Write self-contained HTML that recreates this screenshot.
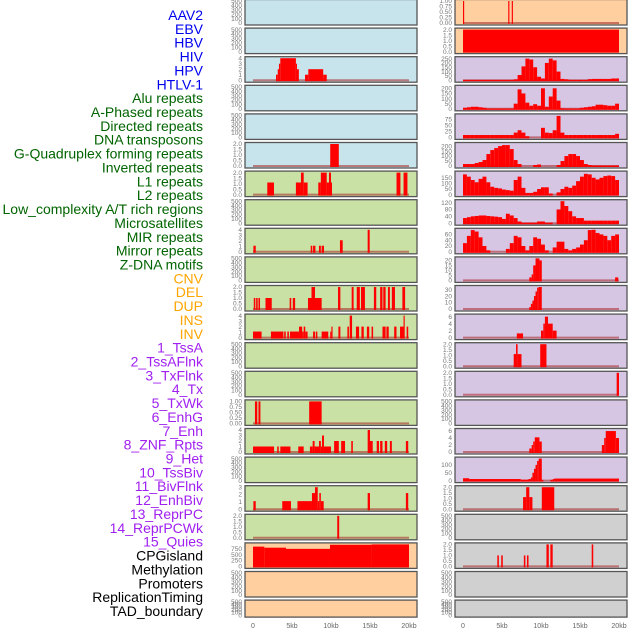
<!DOCTYPE html>
<html><head><meta charset="utf-8"><style>
html,body{margin:0;padding:0;background:#fff;}
svg{display:block;font-family:"Liberation Sans",sans-serif;}
</style></head><body>
<svg id="chart" width="630" height="630" viewBox="0 0 630 630">
<g id="labels"></g>
<g id="panels"></g>
<g id="xaxis"></g>
</svg>
<script>
// ---- label data ----
const labelNames = ["AAV2","EBV","HBV","HIV","HPV","HTLV-1","Alu repeats","A-Phased repeats","Directed repeats","DNA transposons","G-Quadruplex forming repeats","Inverted repeats","L1 repeats","L2 repeats","Low_complexity A/T rich regions","Microsatellites","MIR repeats","Mirror repeats","Z-DNA motifs","CNV","DEL","DUP","INS","INV","1_TssA","2_TssAFlnk","3_TxFlnk","4_Tx","5_TxWk","6_EnhG","7_Enh","8_ZNF_Rpts","9_Het","10_TssBiv","11_BivFlnk","12_EnhBiv","13_ReprPC","14_ReprPCWk","15_Quies","CPGisland","Methylation","Promoters","ReplicationTiming","TAD_boundary"];
const labelGroups = [0,0,0,0,0,0,1,1,1,1,1,1,1,1,1,1,1,1,1,2,2,2,2,2,3,3,3,3,3,3,3,3,3,3,3,3,3,3,3,4,4,4,4,4];
const xTickKb = [0,5,10,15,20];
const xTickLabels = ["0","5kb","10kb","15kb","20kb"];

// ---- tick label sets ----
const T500 = ['0','100','200','300','400','500'];
const T2 = ['0.0','0.5','1.0','1.5','2.0'];
const T1 = ['0.00','0.25','0.50','0.75','1.00'];
const T4 = ['0','1','2','3','4'];
const T3 = ['0','1','2','3'];

// ---- left column segment data [startKb, endKb, value] ----
const l02 = [[2.95,3.17,1],[3.17,3.33,2],[3.33,3.5,3],[3.5,5.5,4],[5.5,5.64,3],[5.64,5.88,2],[6.67,7.09,1],[7.09,9.0,2],[9.0,9.45,1]];
const l05 = [[9.9,11.0,2]];
const l06 = [[1.83,2.69,1.1],[5.5,6.15,1.1],[6.15,6.5,2],[6.5,7.0,1.1],[8.37,8.7,1.1],[8.7,9.45,2],[9.45,9.74,1.1],[9.74,10.0,2],[10.0,10.1,1.1],[18.4,18.9,2],[19.3,19.8,2]];
const l08 = [[0.05,0.35,1.1],[7.4,7.6,1.1],[7.7,8.0,1.1],[8.46,8.7,1.1],[8.8,9.1,1.1],[11.15,11.5,2.1],[14.7,14.96,4]];
const l10 = [[0.1,0.3,1],[0.4,0.6,1],[0.7,0.9,1],[1.6,2.4,1],[4.7,4.9,1],[5.1,5.4,1],[7.05,7.5,1],[7.5,7.95,2],[7.95,8.8,1],[10.9,11.2,2],[12.65,12.9,2],[13.3,13.7,2],[13.85,14.35,2],[15.5,15.8,2],[16.3,16.6,2],[16.7,17.0,2],[17.3,17.55,2],[17.8,18.2,2],[19.15,19.5,2]];
const l11 = [[0.0,1.1,1.1],[2.3,3.9,1.1],[4.0,4.2,1.1],[4.4,4.6,1.1],[4.74,5.9,1.1],[5.9,6.3,2],[6.3,6.5,1.1],[6.5,6.7,2],[6.7,7.0,1.1],[7.7,7.95,1.1],[8.05,8.25,1.1],[8.8,9.65,1.1],[9.9,10.05,1.1],[10.05,10.2,2],[10.95,11.2,2],[12.1,12.3,2],[12.4,12.7,4],[13.2,13.6,2],[13.9,14.2,2],[14.6,14.9,2],[15.2,15.4,2],[16.6,17.0,2],[17.1,17.4,2],[18.1,18.4,2],[18.85,19.3,2],[19.3,19.45,4],[19.7,19.9,2]];
const l14 = [[0.25,0.55,1],[0.7,0.95,1],[7.2,8.8,1]];
const l15 = [[0.0,2.7,1],[3.1,3.3,1],[3.5,4.8,1],[5.8,6.5,1],[7.3,7.65,1],[7.65,7.9,2],[7.9,8.46,1],[8.46,8.7,2],[8.7,8.85,1],[8.85,9.1,3],[9.1,10.0,1],[10.4,11.0,2],[11.3,11.8,2],[12.6,12.8,2],[14.7,15.0,4],[15.0,15.35,2],[15.86,16.15,2],[16.3,16.6,2],[16.9,17.2,2],[17.55,17.8,2],[19.6,19.9,2]];
const l17 = [[0.05,0.35,1.1],[3.75,4.87,1.1],[5.7,7.56,1.1],[7.56,7.95,2.2],[7.95,8.3,3],[8.3,8.5,1.1],[8.5,8.7,2.2],[8.7,9.06,1.1],[14.7,15.0,2.2],[19.6,19.9,2.2]];
const l18 = [[10.8,11.05,2]];
const l19 = [[0,1.45,845],[1.45,4.23,800],[4.23,9.87,750],[9.87,15.2,925],[15.2,20.0,940]];

// ---- right column data ----
const r00 = [[0.0,0.15,1],[5.8,5.95,1],[6.25,6.4,1]];
const r01 = [[0,20,2]];
// profiles: 40 bins of 0.5kb
const r02 = [3,3,3,3,3,3,3,3,3,3,3,3,3,10,60,160,250,240,150,40,20,200,250,230,100,15,10,3,3,3,3,3,12,15,15,15,15,15,20,20];
const r03 = [10,15,20,20,15,10,3,3,3,3,3,3,3,50,190,150,60,30,45,30,200,20,120,200,80,5,3,3,3,3,10,15,20,25,40,40,35,30,30,50];
const r04 = [10,10,10,10,10,10,10,10,10,10,10,10,10,20,30,20,5,0,0,0,40,20,18,30,90,20,10,10,10,10,10,10,10,10,10,10,10,10,10,15];
const r05 = [20,20,20,30,40,60,120,160,180,200,210,210,170,60,20,0,0,0,10,15,0,0,0,0,10,50,100,120,120,100,60,20,10,5,5,5,5,5,5,5];
const r06 = [180,160,130,110,140,160,110,70,60,55,45,40,35,130,160,60,15,15,25,50,65,65,10,0,20,50,70,60,80,120,160,185,180,150,135,150,165,170,165,130];
const r07 = [30,35,40,42,45,45,42,40,38,35,25,55,45,30,10,3,3,3,3,10,10,3,3,0,80,130,100,70,40,30,30,15,15,15,15,15,15,15,15,15];
const r08 = [30,55,75,70,50,20,5,0,0,0,0,10,30,55,50,20,5,20,50,45,25,5,0,15,35,35,10,5,10,15,25,40,75,80,65,60,55,40,55,60];
const r09 = [[8.5,8.8,3],[8.8,9.0,6],[9.0,9.3,15],[9.3,9.8,22],[9.8,10.1,20],[19.5,19.9,3]];
const r10 = [[8.5,8.7,3],[8.7,8.9,8],[8.9,9.1,13],[9.1,9.3,20],[9.3,9.5,27],[9.5,9.7,33],[9.7,10.1,35]];
const r11 = [[6.9,7.7,1.2],[10.0,10.3,2],[10.3,10.5,4],[10.5,10.9,6],[10.9,11.5,4],[11.5,12.0,2]];
const r12 = [[6.5,6.8,1.1],[6.8,7.0,2],[7.0,7.5,1.1],[9.9,10.7,2]];
const r13 = [[19.7,20.0,2]];
const r15 = [[8.5,8.8,1],[8.8,9.0,2],[9.0,9.2,3],[9.2,9.8,4.2],[9.8,10.1,3],[17.8,18.1,2],[18.1,18.3,4],[18.3,19.6,6],[19.6,20.0,4]];
const r16 = [[0,0.8,15],[0.8,7.4,10],[7.4,8.4,6],[8.4,8.7,10],[8.7,8.9,20],[8.9,9.1,50],[9.1,9.3,75],[9.3,9.5,100],[9.5,9.7,125],[9.7,10.1,140],[10.1,10.3,5],[11.2,11.5,5],[11.5,11.7,10],[11.7,20,13]];
const r17 = [[7.7,8.1,1.1],[8.1,8.5,2],[8.5,8.9,1.1],[10.1,11.7,2]];
const r19 = [[4.4,4.6,1],[4.9,5.1,1],[7.8,8.0,1],[8.2,8.4,1],[10.7,11.0,2],[11.2,11.5,2],[16.5,16.7,2]];

const BLUE='#c7e4ec', GREEN='#c9e1a4', ORANGE='#ffcf9f', PURPLE='#d6c6e3', GRAY='#d0d0d0';
const leftPanels = [
 {bg:BLUE,t:T500},{bg:BLUE,t:T500},{bg:BLUE,t:T4,s:l02},{bg:BLUE,t:T500},{bg:BLUE,t:T500},
 {bg:BLUE,t:T2,s:l05},{bg:GREEN,t:T2,s:l06},{bg:GREEN,t:T500},{bg:GREEN,t:T4,s:l08},{bg:GREEN,t:T500},
 {bg:GREEN,t:T2,s:l10},{bg:GREEN,t:T4,s:l11},{bg:GREEN,t:T500},{bg:GREEN,t:T500},{bg:GREEN,t:T1,s:l14},
 {bg:GREEN,t:T4,s:l15},{bg:GREEN,t:T500},{bg:GREEN,t:T3,s:l17},{bg:GREEN,t:T2,s:l18},
 {bg:ORANGE,t:['0','250','500','750'],m:940,s:l19},{bg:ORANGE,t:T500},{bg:ORANGE,t:T500}];
const rightPanels = [
 {bg:ORANGE,t:T1,s:r00},{bg:ORANGE,t:T2,s:r01},
 {bg:PURPLE,t:['0','50','100','150','200','250'],m:255,p:r02},
 {bg:PURPLE,t:['0','50','100','150','200'],m:215,p:r03},
 {bg:PURPLE,t:['0','25','50','75'],m:92,p:r04},
 {bg:PURPLE,t:['0','50','100','150','200'],m:221,p:r05},
 {bg:PURPLE,t:['0','50','100','150'],m:196,p:r06},
 {bg:PURPLE,t:['0','40','80','120'],m:128,p:r07},
 {bg:PURPLE,t:['0','20','40','60'],m:76,p:r08},
 {bg:PURPLE,t:['0','5','10','15','20'],m:22,s:r09},
 {bg:PURPLE,t:['0','10','20','30'],m:34,s:r10},
 {bg:PURPLE,t:['0','2','4','6'],m:6.3,s:r11},
 {bg:PURPLE,t:T2,s:r12},{bg:PURPLE,t:T2,s:r13},{bg:PURPLE,t:T500},
 {bg:PURPLE,t:['0','2','4','6'],m:6.3,s:r15},
 {bg:PURPLE,t:['0','50','100'],m:140,s:r16},
 {bg:GRAY,t:T2,s:r17},{bg:GRAY,t:T500},{bg:GRAY,t:T2,s:r19},{bg:GRAY,t:T500},{bg:GRAY,t:T500}];

const NS='http://www.w3.org/2000/svg';
function mk(tag, attrs, parent){const e=document.createElementNS(NS,tag);for(const k in attrs)e.setAttribute(k,attrs[k]);parent.appendChild(e);return e;}

// labels
const groupColors=['#0000ee','#006400','#ffa500','#a020f0','#000000'];
const lg=document.getElementById('labels');
labelNames.forEach((n,i)=>{
  const t=mk('text',{x:203,y:15+i*13.86+5,'text-anchor':'end','font-size':14,fill:groupColors[labelGroups[i]]},lg);
  
  
  t.textContent=n;
});

const pg=document.getElementById('panels');
function xScale(kb,x0){return x0+8+kb*7.8;}
function drawPanel(p,row,x0,col){
  const top=-0.5+row*28.6, h=(row===21)?17:25.5, w=172;
  const ymax=p.m||parseFloat(p.t[p.t.length-1]);
  const y0=top+h-2, yr=h-3.5;
  const yScale=v=>y0-Math.min(v,ymax)/ymax*yr;
  const g=mk('g',{},pg);
  
  
  const bg=mk('rect',{x:x0,y:top,width:w,height:h,fill:p.bg},g);
  
  
  p.t.forEach(lbl=>{
    const v=parseFloat(lbl);
    const tt=mk('text',{x:x0-3,y:yScale(v)+2.2,'text-anchor':'end','font-size':6.5,fill:'#777'},g);
    
    
    tt.textContent=lbl;
  });
  if(p.s||p.p){
    const bl=mk('line',{x1:xScale(0,x0),x2:xScale(20,x0),y1:y0,y2:y0,stroke:'rgba(170,50,50,0.6)','stroke-width':2},g);
    
    
  }
  const segs=p.s?p.s:(p.p?p.p.map((v,i)=>[i*0.5,(i+1)*0.5,v]):[]);
  segs.forEach(sg=>{
    if(sg[2]<=0)return;
    const xa=xScale(sg[0],x0), xb=xScale(sg[1],x0), yt=yScale(sg[2]);
    const r=mk('rect',{x:xa,y:yt,width:Math.max(xb-xa,1),height:y0+1-yt,fill:'#ff0000'},g);
    
    
  });
  const b=mk('rect',{x:x0,y:top,width:w,height:h,fill:'none',stroke:'#555','stroke-width':1.3},g);
  
  
}
leftPanels.forEach((p,i)=>drawPanel(p,i,245,'left'));
rightPanels.forEach((p,i)=>drawPanel(p,i,455,'right'));

const xg=document.getElementById('xaxis');
[245,455].forEach(x0=>{
  xTickKb.forEach((kb,i)=>{
    const t=mk('text',{x:xScale(kb,x0),y:628,'text-anchor':'middle','font-size':7,fill:'#666'},xg);
    
    
    t.textContent=xTickLabels[i];
  });
});
</script>
</body></html>
